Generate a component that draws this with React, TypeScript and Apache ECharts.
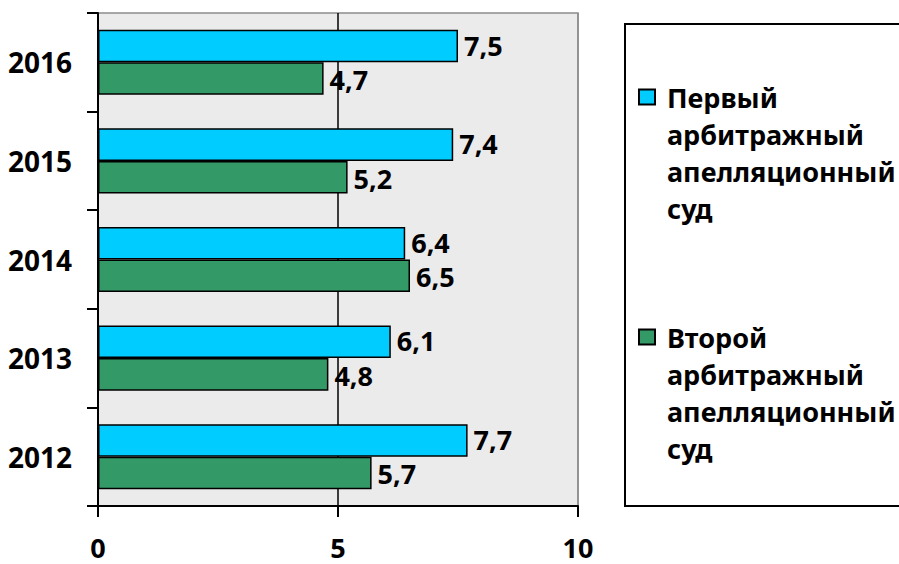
import React, { useEffect, useRef } from "react";
import * as echarts from "echarts";

const years = ["2012", "2013", "2014", "2015", "2016"];
const firstCourt = [7.7, 6.1, 6.4, 7.4, 7.5];
const secondCourt = [5.7, 4.8, 6.5, 5.2, 4.7];
const firstName = "Первый\nарбитражный\nапелляционный\nсуд";
const secondName = "Второй\nарбитражный\nапелляционный\nсуд";
const xTicks = { min: 0, max: 10, interval: 5 };

const FONT = "'Noto Sans', sans-serif";
const LINE = 37;

export default function App() {
  const ref = useRef<HTMLDivElement>(null);
  useEffect(() => {
    if (!ref.current) return;
    const chart = echarts.init(ref.current, null, { renderer: "svg" });
    const fmt = (p: any) => String(p.value).replace(".", ",");
    const legendText = {
      fontFamily: FONT,
      fontWeight: "bold" as const,
      fontSize: 27,
      color: "#000",
      lineHeight: LINE,
    };
    const legendBase = {
      orient: "vertical",
      left: 633,
      itemWidth: 30,
      itemHeight: 15,
      icon: "path://M0,0h16v15h-16Z",
      symbolKeepAspect: true,
      formatter: (name: string) => "\n\n\n" + name,
      textStyle: legendText,
    };
    const valueLabel = (dy: number) => ({
      show: true,
      position: "right",
      distance: 6,
      offset: [0, dy],
      formatter: fmt,
      fontSize: 27,
      lineHeight: 28,
      fontWeight: "bold",
      color: "#000",
      fontFamily: FONT,
    });
    chart.setOption({
      animation: false,
      backgroundColor: "#fff",
      textStyle: { fontFamily: FONT },
      graphic: [
        {
          type: "rect",
          z: -1,
          shape: { x: 625, y: 24, width: 300, height: 482 },
          style: { fill: "#fff", stroke: "#000", lineWidth: 2 },
        },
      ],
      legend: [
        { ...legendBase, data: [firstName], top: 92 - 3.5 * LINE },
        { ...legendBase, data: [secondName], top: 332 - 3.5 * LINE },
      ],
      grid: {
        left: 98,
        right: 321,
        top: 13,
        bottom: 58,
        show: true,
        backgroundColor: "#ebebeb",
        borderColor: "#8c8c8c",
        borderWidth: 1.5,
      },
      xAxis: {
        type: "value",
        min: xTicks.min,
        max: xTicks.max,
        interval: xTicks.interval,
        axisLine: { show: true, lineStyle: { color: "#000", width: 2 } },
        axisTick: { show: true, length: 11, lineStyle: { color: "#000", width: 2 } },
        axisLabel: {
          margin: 30,
          fontSize: 27,
          lineHeight: 22,
          fontWeight: "bold",
          color: "#000",
          fontFamily: FONT,
        },
        splitLine: {
          show: true,
          lineStyle: { color: ["#000", "#000", "#8c8c8c"], width: 1.5 },
        },
      },
      yAxis: {
        type: "category",
        data: years,
        axisLine: { show: true, lineStyle: { color: "#000", width: 2 } },
        axisTick: { show: true, length: 11, lineStyle: { color: "#000", width: 2 } },
        axisLabel: {
          margin: 26,
          fontSize: 28,
          fontWeight: "bold",
          color: "#000",
          fontFamily: FONT,
        },
      },
      series: [
        {
          name: firstName,
          type: "bar",
          data: firstCourt,
          barGap: "0%",
          barCategoryGap: "34%",
          itemStyle: { color: "#00ccff", borderColor: "#000", borderWidth: 1.5 },
          label: valueLabel(-1),
        },
        {
          name: secondName,
          type: "bar",
          data: secondCourt,
          barGap: "0%",
          barCategoryGap: "34%",
          itemStyle: { color: "#339966", borderColor: "#000", borderWidth: 1.5 },
          label: valueLabel(1),
        },
      ],
    });
    return () => chart.dispose();
  }, []);
  return (
    <div
      ref={ref}
      style={{ position: "absolute", left: 0, top: 0, width: 899, height: 564 }}
    />
  );
}
